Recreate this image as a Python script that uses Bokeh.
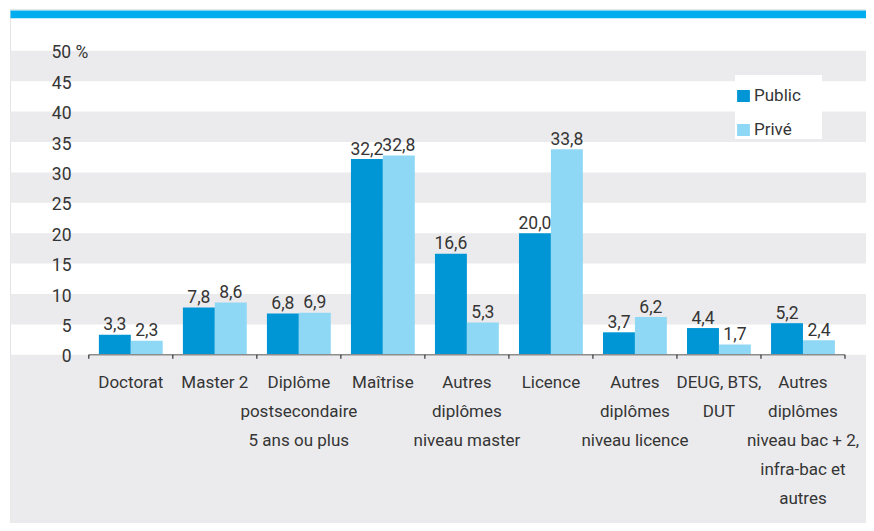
import numpy as np
from bokeh.plotting import figure
from bokeh.models import Range1d, ColumnDataSource, Legend, LegendItem
from bokeh.core.properties import value
from bokeh.embed import file_html
from bokeh.resources import INLINE

# ---------------- data ----------------
categories = [
    "Doctorat",
    "Master 2",
    "Diplôme\npostsecondaire\n5 ans ou plus",
    "Maîtrise",
    "Autres\ndiplômes\nniveau master",
    "Licence",
    "Autres\ndiplômes\nniveau licence",
    "DEUG, BTS,\nDUT",
    "Autres\ndiplômes\nniveau bac + 2,\ninfra-bac et\nautres",
]
public = [3.3, 7.8, 6.8, 32.2, 16.6, 20.0, 3.7, 4.4, 5.2]
prive = [2.3, 8.6, 6.9, 32.8, 5.3, 33.8, 6.2, 1.7, 2.4]
series_names = ["Public", "Privé"]
y_ticks = [0, 5, 10, 15, 20, 25, 30, 35, 40, 45, 50]
y_tick_labels = ["0", "5", "10", "15", "20", "25", "30", "35", "40", "45", "50 %"]

# ---------------- style / geometry ----------------
FIG_W, FIG_H = 866, 523
X0_PX, X_UNIT = 88.3, 84.02      # pixel of category boundary 0, px per category
Y0_PX, Y_UNIT = 354.3, 6.08      # pixel (from top) of value 0, px per unit

def dx(px):
    return (px - X0_PX) / X_UNIT

def dy(px):
    return (Y0_PX - px) / Y_UNIT

FONT_NAME = "Roboto"
FONT = value(FONT_NAME)
TXT = "#353535"
GRAY = "#EBEBED"
C_PUB = "#0096D6"
C_PRI = "#8FD8F5"
CYAN = "#00AEEF"
BAR_W = 0.38

p = figure(width=FIG_W, height=FIG_H, output_backend="svg", toolbar_location=None,
           x_range=Range1d(dx(0), dx(FIG_W)), y_range=Range1d(dy(FIG_H), dy(0)),
           x_axis_type=None, y_axis_type=None, min_border=0)
p.outline_line_color = None
p.grid.visible = False
p.background_fill_color = "white"
p.border_fill_color = "white"

n = len(categories)
centers = np.arange(n) + 0.5
left_edge = dx(10)
right_edge = dx(FIG_W + 2)

# faint frame around the chart area
p.quad(left=left_edge, right=right_edge, bottom=dy(FIG_H + 2), top=dy(9),
       fill_color="white", line_color="#E4E4E4", line_width=1)
# alternating bands between y ticks
b_bot = [y_ticks[i] for i in range(1, len(y_ticks) - 1, 2)]
b_top = [y_ticks[i + 1] for i in range(1, len(y_ticks) - 1, 2)]
p.quad(left=left_edge, right=right_edge, bottom=b_bot, top=b_top,
       fill_color=GRAY, line_color=None)
# gray area below the baseline
p.quad(left=left_edge, right=right_edge, bottom=dy(FIG_H + 2), top=y_ticks[0],
       fill_color=GRAY, line_color=None)
# cyan top strip
p.quad(left=left_edge, right=right_edge, bottom=dy(17.7), top=dy(10),
       fill_color=CYAN, line_color=None)

# bars
src = ColumnDataSource(dict(
    x_pub=centers - BAR_W / 2, x_pri=centers + BAR_W / 2,
    pub=public, pri=prive,
    pub_lbl=[f"{v:.1f}".replace(".", ",") for v in public],
    pri_lbl=[f"{v:.1f}".replace(".", ",") for v in prive],
))
r_pub = p.vbar(x="x_pub", top="pub", width=BAR_W, bottom=0, source=src,
               fill_color=C_PUB, line_color=None)
r_pri = p.vbar(x="x_pri", top="pri", width=BAR_W, bottom=0, source=src,
               fill_color=C_PRI, line_color=None)

# value labels
for xcol, ycol, tcol in (("x_pub", "pub", "pub_lbl"), ("x_pri", "pri", "pri_lbl")):
    p.text(x=xcol, y=ycol, text=tcol, source=src, text_align="center",
           text_baseline="alphabetic", y_offset=-11, text_font=FONT,
           text_font_size="17.5px", text_color=TXT)

# x baseline and ticks
bounds = list(range(n + 1))
p.segment(x0=bounds[0], x1=bounds[-1], y0=0, y1=0, line_color="#8C8C8C", line_width=1.5)
p.segment(x0=bounds, x1=bounds, y0=0, y1=-4 / Y_UNIT, line_color="#333333", line_width=1.2)

# category labels (one row per text line)
lx, lk, lt = [], [], []
for c, lab in zip(centers, categories):
    for k, line in enumerate(lab.split("\n")):
        lx.append(c); lk.append(27 + 29 * k); lt.append(line)
lsrc = ColumnDataSource(dict(x=lx, y=[0] * len(lx), off=lk, t=lt))
p.text(x="x", y="y", text="t", y_offset="off", source=lsrc, text_align="center",
       text_baseline="alphabetic", text_font=FONT, text_font_size="17px", text_color=TXT)

# y tick labels
ysrc = ColumnDataSource(dict(y=y_ticks[:-1], t=y_tick_labels[:-1]))
p.text(x=dx(71), y="y", text="t", source=ysrc, text_align="right",
       text_baseline="middle", y_offset=1, text_font=FONT, text_font_size="17.5px",
       text_color=TXT)
p.text(x=dx(51), y=y_ticks[-1:], text=y_tick_labels[-1:], text_align="left",
       text_baseline="middle", y_offset=1, text_font=FONT, text_font_size="17.5px",
       text_color=TXT)

# legend
legend = Legend(items=[LegendItem(label=series_names[0], renderers=[r_pub]),
                       LegendItem(label=series_names[1], renderers=[r_pri])],
                location=(735, FIG_H - 139), orientation="vertical",
                background_fill_color="white", background_fill_alpha=1.0,
                border_line_color=None, glyph_width=16, glyph_height=15,
                label_standoff=3, label_text_font=FONT_NAME, label_text_font_size="17px",
                label_text_color=TXT, label_height=15, label_width=68, padding=6,
                spacing=14, margin=0, title=" ", title_text_font_size="9px",
                title_standoff=0)
p.add_layout(legend)

open("out.html", "w").write(file_html(p, INLINE))
